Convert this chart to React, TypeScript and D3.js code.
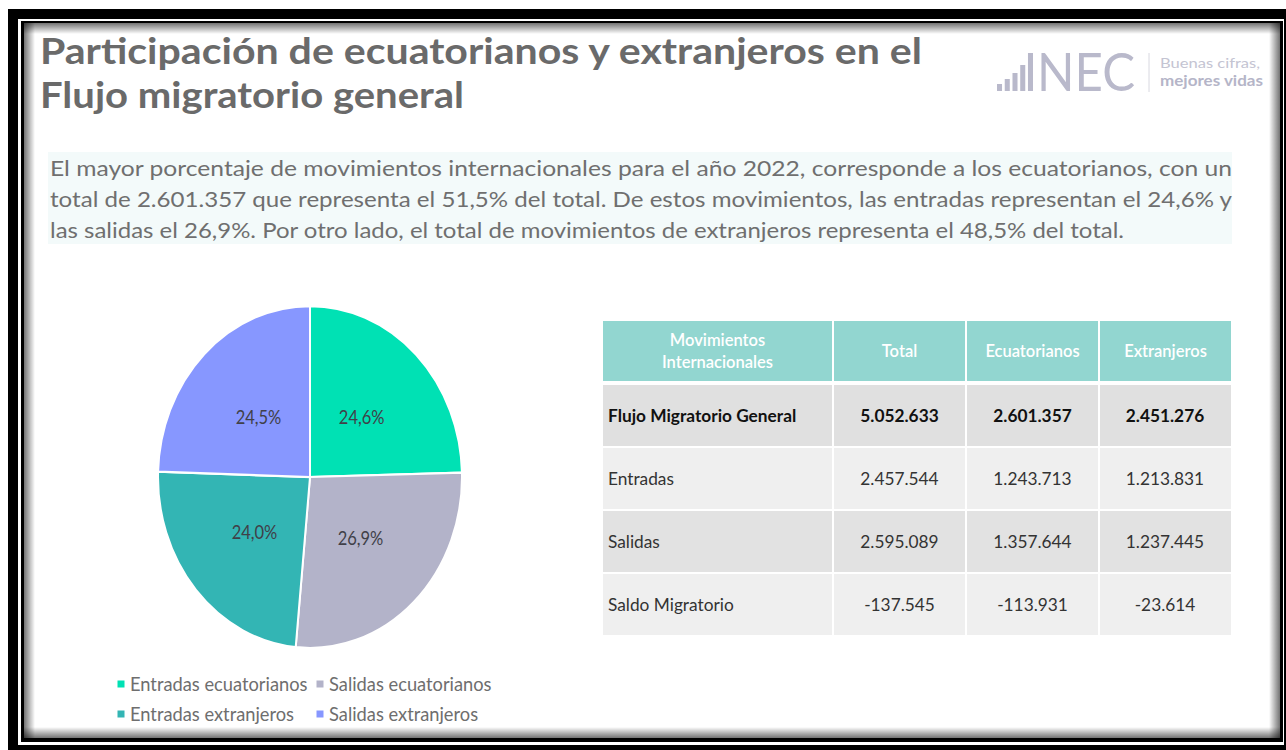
import React from "react";
import * as d3 from "d3";

// ---------- data ----------
const titleLines = [
  "Participación de ecuatorianos y extranjeros en el",
  "Flujo migratorio general",
];
const paragraphLines = [
  "El mayor porcentaje de movimientos internacionales para el año 2022, corresponde a los ecuatorianos, con un",
  "total de 2.601.357 que representa el 51,5% del total. De estos movimientos, las entradas representan el 24,6% y",
  "las salidas el 26,9%. Por otro lado, el total de  movimientos de extranjeros representa el 48,5% del total.",
];
const sliceLabels = [
  "Entradas ecuatorianos",
  "Salidas ecuatorianos",
  "Entradas extranjeros",
  "Salidas extranjeros",
];
const sliceValues = [24.6, 26.9, 24.0, 24.5];
const sliceColors = ["#00e1b4", "#b3b3c9", "#33b5b4", "#8797ff"];

const headerLabels = ["Movimientos\nInternacionales", "Total", "Ecuatorianos", "Extranjeros"];
const rowLabels = ["Flujo Migratorio General", "Entradas", "Salidas", "Saldo Migratorio"];
const totalValues = [5052633, 2457544, 2595089, -137545];
const ecuatorianosValues = [2601357, 1243713, 1357644, -113931];
const extranjerosValues = [2451276, 1213831, 1237445, -23614];

// ---------- layout ----------
const W = 1286;
const H = 750;
const FONT = "Lato, 'Open Sans', sans-serif";
const locale = d3.formatLocale({
  decimal: ",",
  thousands: ".",
  grouping: [3],
  currency: ["$", ""],
  minus: "-",
});
const fmt = locale.format(",d");

function Frame() {
  const inner = { x: 24, y: 23, w: 1256, h: 715 };
  const s = 11;
  return (
    <g>
      <defs>
        <linearGradient id="shT" x1="0" y1="0" x2="0" y2="1">
          <stop offset="0" stopColor="#000" stopOpacity="0.55" />
          <stop offset="1" stopColor="#000" stopOpacity="0" />
        </linearGradient>
        <linearGradient id="shB" x1="0" y1="1" x2="0" y2="0">
          <stop offset="0" stopColor="#000" stopOpacity="0.55" />
          <stop offset="1" stopColor="#000" stopOpacity="0" />
        </linearGradient>
        <linearGradient id="shL" x1="0" y1="0" x2="1" y2="0">
          <stop offset="0" stopColor="#000" stopOpacity="0.55" />
          <stop offset="1" stopColor="#000" stopOpacity="0" />
        </linearGradient>
        <linearGradient id="shR" x1="1" y1="0" x2="0" y2="0">
          <stop offset="0" stopColor="#000" stopOpacity="0.55" />
          <stop offset="1" stopColor="#000" stopOpacity="0" />
        </linearGradient>
      </defs>
      <rect x={0} y={0} width={W} height={H} fill="#fff" />
      <rect x={8} y={9} width={W} height={H} fill="#000" />
      <rect x={18} y={19} width={1266} height={726} fill="#fff" />
      <rect x={21} y={21} width={1262} height={721} fill="#000" />
      <rect x={inner.x} y={inner.y} width={inner.w} height={inner.h} fill="#fff" />
      <rect x={inner.x} y={inner.y} width={inner.w} height={s} fill="url(#shT)" />
      <rect x={inner.x} y={inner.y + inner.h - s} width={inner.w} height={s} fill="url(#shB)" />
      <rect x={inner.x} y={inner.y} width={s} height={inner.h} fill="url(#shL)" />
      <rect x={inner.x + inner.w - s} y={inner.y} width={s} height={inner.h} fill="url(#shR)" />
    </g>
  );
}

function Logo() {
  const barHeights = [7, 12, 18, 26, 38];
  const x = d3.scaleBand<number>().domain(d3.range(barHeights.length)).range([997, 1033]).paddingInner(0.35);
  const color = "#b9b9cb";
  return (
    <g>
      {barHeights.map((h, i) => (
        <rect key={i} x={x(i)} y={91 - h} width={x.bandwidth()} height={h} fill={color} />
      ))}
      <text x={1037} y={91} fontFamily={FONT} fontSize={52} fill={color} textLength={98} lengthAdjust="spacingAndGlyphs">
        NEC
      </text>
      <line x1={1149} x2={1149} y1={53} y2={92} stroke="#d8d8e0" strokeWidth={1} />
      <text x={1160} y={68} fontFamily={FONT} fontSize={13} fill="#c4c4d2" textLength={100} lengthAdjust="spacingAndGlyphs">
        Buenas cifras,
      </text>
      <text x={1160} y={86} fontFamily={FONT} fontSize={15.5} fontWeight={700} fill="#b5b5c8" textLength={103} lengthAdjust="spacingAndGlyphs">
        mejores vidas
      </text>
    </g>
  );
}

function Pie() {
  const cx = 310, cy = 477, rx = 152, ry = 171;
  const pie = d3.pie<number>().sort(null).value((d) => d);
  const arcs = pie(sliceValues);
  const arc = d3.arc<d3.PieArcDatum<number>>().innerRadius(0).outerRadius(rx);
  const labelArc = d3.arc<d3.PieArcDatum<number>>().innerRadius(74).outerRadius(74);
  const pct = (v: number) => v.toFixed(1).replace(".", ",") + "%";
  return (
    <g transform={`translate(${cx},${cy}) scale(1,${ry / rx})`}>
      {arcs.map((a, i) => (
        <path key={i} d={arc(a) || ""} fill={sliceColors[i]} stroke="#fff" strokeWidth={2} />
      ))}
      {arcs.map((a, i) => {
        const [lx, ly] = labelArc.centroid(a);
        return (
          <text key={"l" + i} x={lx} y={ly} textAnchor="middle" dominantBaseline="central" fontFamily={FONT} fontSize={16.5} fill="#404048">
            {pct(sliceValues[i])}
          </text>
        );
      })}
    </g>
  );
}

function Legend() {
  const colX = [121, 320];
  const rowY = [684, 714];
  return (
    <g>
      {sliceLabels.map((lab, i) => {
        const x = colX[i % 2];
        const y = rowY[Math.floor(i / 2)];
        return (
          <g key={i}>
            <rect x={x - 3.5} y={y - 3.5} width={7} height={7} fill={sliceColors[i]} />
            <text x={x + 9} y={y} dominantBaseline="central" fontFamily={FONT} fontSize={18.3} fill="#6e6e6e">
              {lab}
            </text>
          </g>
        );
      })}
    </g>
  );
}

function Table() {
  const colEdges = [603, 833, 966, 1099, 1231];
  const gap = 2;
  const headerTop = 321, headerBottom = 381;
  const bodyTop = 385, bodyBottom = 635;
  const y = d3.scaleBand<number>().domain(d3.range(rowLabels.length)).range([bodyTop, bodyBottom + gap]);
  const rowFills = ["#e0e0e0", "#efefef", "#e2e2e2", "#efefef"];
  const columns = [totalValues, ecuatorianosValues, extranjerosValues];
  return (
    <g fontFamily={FONT}>
      {headerLabels.map((h, c) => {
        const x0 = colEdges[c] + (c === 0 ? 0 : gap / 2);
        const x1 = colEdges[c + 1] - (c === headerLabels.length - 1 ? 0 : gap / 2);
        const lines = h.split("\n");
        const cyH = (headerTop + headerBottom) / 2;
        return (
          <g key={c}>
            <rect x={x0} y={headerTop} width={x1 - x0} height={headerBottom - headerTop} fill="#92d6d0" />
            <text textAnchor="middle" fontSize={16.5} fontWeight={600} fill="#fff">
              {lines.map((ln, k) => (
                <tspan key={k} x={(x0 + x1) / 2} y={cyH + (k - (lines.length - 1) / 2) * 22 + 6}>
                  {ln}
                </tspan>
              ))}
            </text>
          </g>
        );
      })}
      {rowLabels.map((lab, r) => {
        const top = y(r)!;
        const h = y.bandwidth() - gap;
        const mid = top + h / 2;
        const bold = r === 0;
        return (
          <g key={r}>
            {colEdges.slice(0, -1).map((e, c) => {
              const x0 = e + (c === 0 ? 0 : gap / 2);
              const x1 = colEdges[c + 1] - (c === colEdges.length - 2 ? 0 : gap / 2);
              return <rect key={c} x={x0} y={top} width={x1 - x0} height={h} fill={rowFills[r]} />;
            })}
            <text x={colEdges[0] + 5} y={mid} dominantBaseline="central" fontSize={17.3} fontWeight={bold ? 700 : 400} fill={bold ? "#111" : "#333"}>
              {lab}
            </text>
            {columns.map((vals, c) => (
              <text key={c} x={(colEdges[c + 1] + colEdges[c + 2]) / 2} y={mid} textAnchor="middle" dominantBaseline="central" fontSize={17.3} fontWeight={bold ? 700 : 400} fill={bold ? "#111" : "#333"}>
                {fmt(vals[r])}
              </text>
            ))}
          </g>
        );
      })}
    </g>
  );
}

export default function App() {
  const titleWidths = [882, 424];
  const paraWidths = [1182, 1182, 1074];
  return (
    <svg width={W} height={H} style={{ position: "absolute", left: 0, top: 0, display: "block" }}>
      <Frame />
      {titleLines.map((t, i) => (
        <text key={i} x={40} y={64 + i * 44} fontFamily={FONT} fontSize={36.5} fontWeight={700} fill="#6a6a6a" textLength={titleWidths[i]} lengthAdjust="spacingAndGlyphs">
          {t}
        </text>
      ))}
      <Logo />
      <rect x={48} y={152} width={1184} height={92} fill="#f3fafa" />
      {paragraphLines.map((t, i) => (
        <text key={i} x={50} y={176 + i * 31} fontFamily={FONT} fontSize={21} fill="#6f6f6f" textLength={paraWidths[i]} lengthAdjust="spacingAndGlyphs">
          {t}
        </text>
      ))}
      <Pie />
      <Legend />
      <Table />
    </svg>
  );
}
